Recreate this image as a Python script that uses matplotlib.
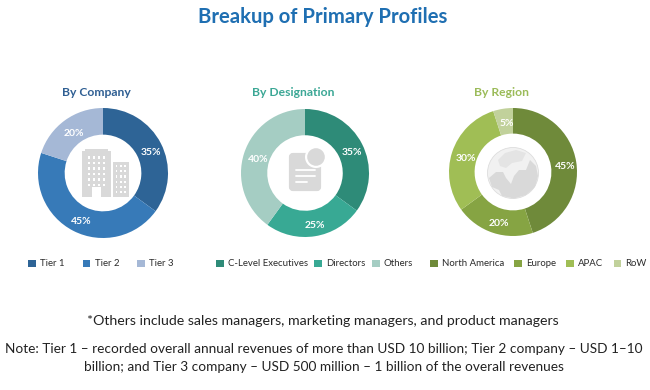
import numpy as np
import matplotlib
matplotlib.use('Agg')
import matplotlib.pyplot as plt
from matplotlib.patches import Rectangle, FancyBboxPatch, Circle, Polygon

plt.rcParams['font.family'] = ['Lato', 'DejaVu Sans']

title = 'Breakup of Primary Profiles'
note_others = '*Others include sales managers, marketing managers, and product managers'
note_tier = ['Note: Tier 1 \u2013 recorded overall annual revenues of more than USD 10 billion; Tier 2 company \u2013 USD 1\u201310',
             'billion; and Tier 3 company \u2013 USD 500 million \u2013 1 billion of the overall revenues']

company_labels = ['Tier 1', 'Tier 2', 'Tier 3']
company_values = [35, 45, 20]
company_colors = ['#2E6496', '#377AB8', '#A5B8D6']

designation_labels = ['C-Level Executives', 'Directors', 'Others']
designation_values = [35, 25, 40]
designation_colors = ['#2E8B78', '#38A994', '#A5CDC3']

region_labels = ['North America', 'Europe', 'APAC', 'RoW']
region_values = [45, 20, 30, 5]
region_colors = ['#6F8A3A', '#86A443', '#A0BE55', '#C1D19B']

W, H = 650, 390
GRAY = '#D9D9D9'

fig = plt.figure(figsize=(W / 100, H / 100), dpi=100)
bg = fig.add_axes([0, 0, 1, 1])
bg.set_xlim(0, W)
bg.set_ylim(H, 0)
bg.axis('off')


def donut(cx, cy, r, hole, values, labels, colors, name, name_color, name_x, leg_x, colsp):
    ax = fig.add_axes([(cx - r - 2) / W, 1 - (cy + r + 2) / H, (2 * r + 4) / W, (2 * r + 4) / H])
    ax.patch.set_alpha(0)
    wedges, _ = ax.pie(values, colors=colors, startangle=90, counterclock=False, radius=1,
                       wedgeprops=dict(width=1 - hole, linewidth=0))
    ax.set_xlim(-1 - 2 / r, 1 + 2 / r)
    ax.set_ylim(-1 - 2 / r, 1 + 2 / r)
    mid = (1 + hole) / 2
    for w, v in zip(wedges, values):
        a = np.deg2rad((w.theta1 + w.theta2) / 2)
        ax.text(mid * np.cos(a) + 1.5 / r, mid * np.sin(a) - 2.5 / r, '%d%%' % v, color='white', fontsize=7.5,
                fontweight='bold', ha='center', va='center')
    bg.text(name_x, 92, name, color=name_color, fontsize=8.7, fontweight='bold', ha='center', va='center')
    leg = fig.legend(wedges, labels, ncol=len(labels), frameon=False, fontsize=6.9,
                     loc='center left', bbox_to_anchor=(leg_x / W, 1 - 264 / H), borderpad=0, borderaxespad=0,
                     handlelength=0.8, handleheight=0.8, handletextpad=0.45, columnspacing=colsp)
    for t in leg.get_texts():
        t.set_color('#2B2B2B')


donut(103, 173, 65, 0.59, company_values, company_labels, company_colors,
      'By Company', '#2F5F93', 96, 28, 1.9)
donut(305, 173, 64, 0.59, designation_values, designation_labels, designation_colors,
      'By Designation', '#3BA795', 293.5, 216, 0.65)
donut(513, 172, 64, 0.60, region_values, region_labels, region_colors,
      'By Region', '#9BBB59', 501.5, 430, 1.05)

# building icon
bg.add_patch(Rectangle((82, 151), 29, 46, color=GRAY, lw=0))
bg.add_patch(Rectangle((85, 149), 23, 3, color=GRAY, lw=0))
bg.add_patch(Rectangle((113, 162), 16, 35, color=GRAY, lw=0))
for col in range(4):
    for row in range(6):
        bg.add_patch(Rectangle((87.5 + col * 5, 156 + row * 5.5), 2.2, 2.6, color='white', lw=0))
for col in range(3):
    for row in range(6):
        bg.add_patch(Rectangle((115.5 + col * 4.2, 165 + row * 5.2), 1.8, 2.2, color='white', lw=0))
bg.add_patch(Rectangle((92, 187), 9, 10, color='white', lw=0))

# document icon
bg.add_patch(FancyBboxPatch((291, 155), 28, 34, boxstyle='round,pad=0,rounding_size=2',
                            fc=GRAY, ec=GRAY, lw=3))
for y, x1 in zip([170, 176, 182], [315, 315, 307]):
    bg.plot([296, x1], [y, y], color='white', lw=1.3, solid_capstyle='round')
bg.add_patch(Circle((316, 157), 11, color='white', lw=0))
bg.add_patch(Circle((316, 157), 8.8, color=GRAY, lw=0))

# globe icon
bg.add_patch(Circle((513, 173), 25.5, fc='#F1F1F1', ec='#DDDDDD', lw=0.6))
bg.add_patch(Polygon([(489, 178), (496, 172), (503, 172), (506, 178), (511, 184), (514, 176), (519, 170),
                      (526, 170), (530, 160), (536, 166), (538, 176), (535, 187), (526, 195), (514, 198.5),
                      (502, 196), (499, 190), (492, 187)], fc=GRAY, ec='none'))
bg.add_patch(Polygon([(498, 160), (505, 153), (516, 150), (526, 153), (522, 161), (512, 163), (506, 168), (500, 166)],
                     fc='#E4E4E4', ec='none'))

bg.text(323, 17, title, color='#1F6FB2', fontsize=14.6, fontweight='bold', ha='center', va='center')
bg.text(323, 321, note_others, color='#222222', fontsize=10.15, ha='center', va='center')
bg.text(324, 349, note_tier[0], color='#222222', fontsize=9.85, ha='center', va='center')
bg.text(324, 367, note_tier[1], color='#222222', fontsize=9.85, ha='center', va='center')

fig.savefig('out.png', dpi=100, facecolor='white')
